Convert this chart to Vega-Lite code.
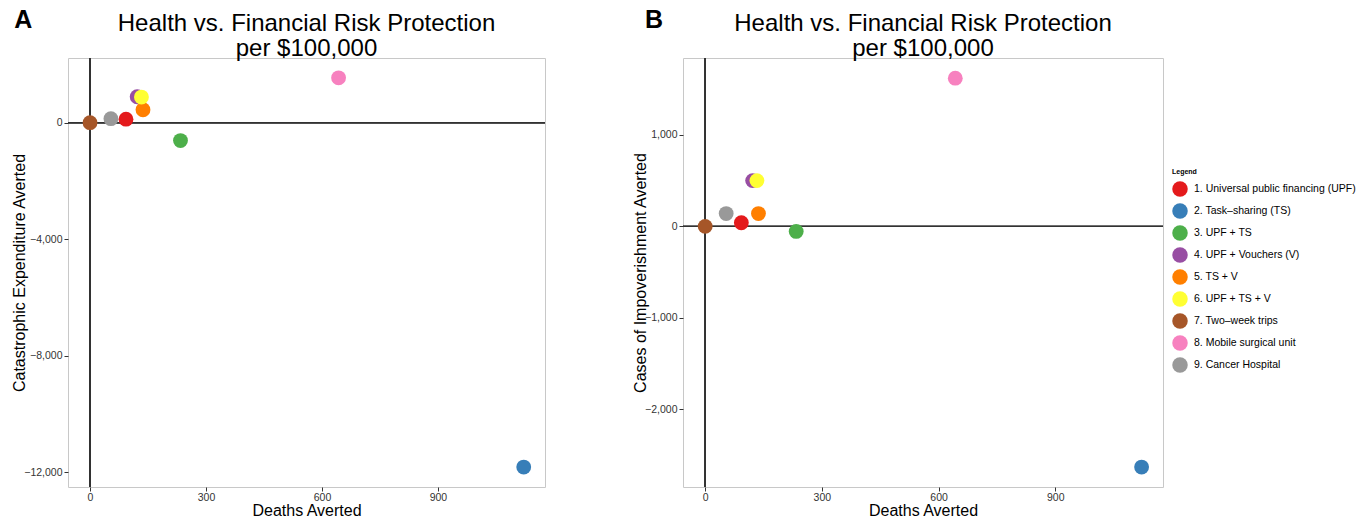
{
  "$schema": "https://vega.github.io/schema/vega-lite/v6.json",
  "padding": {"left": 11, "top": 8, "right": 5, "bottom": 0},
  "config": {
    "font": "Liberation Sans",
    "view": {"stroke": "#c8c8c8", "strokeWidth": 1},
    "axis": {"grid": false, "domain": false, "tickColor": "#333333", "tickSize": 4, "labelColor": "#333333", "labelFontSize": 10.5, "labelPadding": 2, "titleFontSize": 16, "titleFontWeight": "normal", "titleColor": "#000000"},
    "axisX": {"titlePadding": 0, "labelPadding": 1},
    "axisY": {"titlePadding": -4},
    "title": {"fontSize": 24, "fontWeight": "normal", "color": "#000000"},
    "legend": {"orient": "none", "legendX": 1104, "legendY": 110, "titleFontSize": 7, "titleFontWeight": "bold", "titleColor": "#000000", "titlePadding": 6, "labelFontSize": 10.5, "labelColor": "#000000", "labelOffset": 6, "labelLimit": 400, "symbolSize": 240, "symbolType": "circle", "symbolStrokeWidth": 0, "symbolOpacity": 1, "rowPadding": 6}
  },
  "data": {"values": [
    {"name": "1. Universal public financing (UPF)", "deaths": 93, "cat": 120, "imp": 40},
    {"name": "2. Task–sharing (TS)", "deaths": 1122, "cat": -11830, "imp": -2630},
    {"name": "3. UPF + TS", "deaths": 234, "cat": -615, "imp": -55},
    {"name": "4. UPF + Vouchers (V)", "deaths": 122, "cat": 890, "imp": 500},
    {"name": "5. TS + V", "deaths": 137, "cat": 444, "imp": 140},
    {"name": "6. UPF + TS + V", "deaths": 133, "cat": 880, "imp": 500},
    {"name": "7. Two–week trips", "deaths": 0, "cat": 0, "imp": 0},
    {"name": "8. Mobile surgical unit", "deaths": 643, "cat": 1540, "imp": 1620},
    {"name": "9. Cancer Hospital", "deaths": 54, "cat": 137, "imp": 140}
  ]},
  "spacing": 86,
  "hconcat": [
    {
      "title": {"text": "A", "anchor": "start", "frame": "bounds", "fontSize": 25, "fontWeight": "bold", "offset": -22, "dx": 3},
      "vconcat": [
        {
          "width": 477,
          "height": 429,
          "title": {"text": ["Health vs. Financial Risk Protection", "per $100,000"], "anchor": "middle", "frame": "group", "lineHeight": 25, "offset": -3},
          "layer": [
            {"mark": {"type": "rule", "color": "#333333", "strokeWidth": 1}, "encoding": {"x": {"datum": 0, "type": "quantitative"}}},
            {"mark": {"type": "rule", "color": "#333333", "strokeWidth": 1}, "encoding": {"y": {"datum": 0, "type": "quantitative"}}},
            {
              "mark": {"type": "circle", "size": 220, "opacity": 1},
              "encoding": {
                "x": {"field": "deaths", "type": "quantitative", "title": "Deaths Averted", "scale": {"domain": [-57, 1177], "nice": false, "zero": false}, "axis": {"values": [0, 300, 600, 900], "format": ",d"}},
                "y": {"field": "cat", "type": "quantitative", "title": "Catastrophic Expenditure Averted", "scale": {"domain": [-12513, 2222], "nice": false, "zero": false}, "axis": {"values": [-12000, -8000, -4000, 0], "format": ",d"}},
                "color": {"field": "name", "type": "nominal", "title": "Legend", "scale": {"range": ["#E41A1C", "#377EB8", "#4DAF4A", "#984EA3", "#FF7F00", "#FFFF33", "#A65628", "#F781BF", "#999999"]}}
              }
            }
          ]
        }
      ]
    },
    {
      "title": {"text": "B", "anchor": "start", "frame": "bounds", "fontSize": 25, "fontWeight": "bold", "offset": -22, "dx": 13},
      "vconcat": [
        {
          "width": 480,
          "height": 429,
          "title": {"text": ["Health vs. Financial Risk Protection", "per $100,000"], "anchor": "middle", "frame": "group", "lineHeight": 25, "offset": -3},
          "layer": [
            {"mark": {"type": "rule", "color": "#333333", "strokeWidth": 1}, "encoding": {"x": {"datum": 0, "type": "quantitative"}}},
            {"mark": {"type": "rule", "color": "#333333", "strokeWidth": 1}, "encoding": {"y": {"datum": 0, "type": "quantitative"}}},
            {
              "mark": {"type": "circle", "size": 220, "opacity": 1},
              "encoding": {
                "x": {"field": "deaths", "type": "quantitative", "title": "Deaths Averted", "scale": {"domain": [-57, 1177], "nice": false, "zero": false}, "axis": {"values": [0, 300, 600, 900], "format": ",d"}},
                "y": {"field": "imp", "type": "quantitative", "title": "Cases of Impoverishment Averted", "scale": {"domain": [-2848, 1840], "nice": false, "zero": false}, "axis": {"values": [-2000, -1000, 0, 1000], "format": ",d"}},
                "color": {"field": "name", "type": "nominal", "title": "Legend", "scale": {"range": ["#E41A1C", "#377EB8", "#4DAF4A", "#984EA3", "#FF7F00", "#FFFF33", "#A65628", "#F781BF", "#999999"]}}
              }
            }
          ]
        }
      ]
    }
  ],
  "resolve": {"scale": {"color": "shared"}}
}
